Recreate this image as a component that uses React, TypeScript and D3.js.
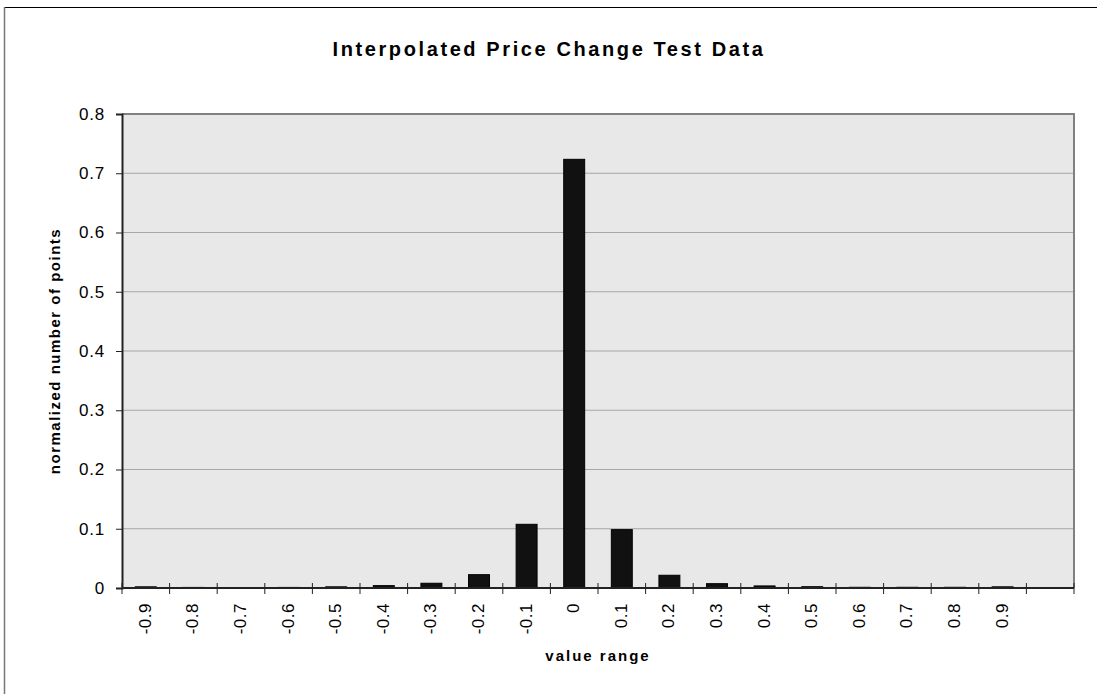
import React, { useEffect, useRef } from 'react';
import * as d3 from 'd3';

const categories = ['-0.9', '-0.8', '-0.7', '-0.6', '-0.5', '-0.4', '-0.3', '-0.2', '-0.1', '0',
  '0.1', '0.2', '0.3', '0.4', '0.5', '0.6', '0.7', '0.8', '0.9', ''];
const values = [0.002, 0.001, 0, 0.001, 0.002, 0.004, 0.008, 0.0225, 0.1075, 0.7235,
  0.0985, 0.0215, 0.0073, 0.0035, 0.0022, 0.0012, 0.0012, 0.0012, 0.002, 0];
const yTicks = [0, 0.1, 0.2, 0.3, 0.4, 0.5, 0.6, 0.7, 0.8];

const W = 1097;
const H = 694;
const FONT = 'Liberation Sans, Arial, sans-serif';

export default function App() {
  const svgRef = useRef<SVGSVGElement>(null);

  useEffect(() => {
    if (!svgRef.current) return;
    const svg = d3.select(svgRef.current);
    svg.selectAll('*').remove();

    const left = 122, right = 1074, top = 114, bottom = 588;

    const x = d3.scaleBand<string>().domain(categories.map((_, i) => String(i))).range([left, right]).padding(0);
    const y = d3.scaleLinear().domain([0, 0.8]).range([bottom, top]);

    // outer chart border
    svg.append('rect')
      .attr('x', 4.5).attr('y', 7.5)
      .attr('width', W + 10).attr('height', H + 10)
      .attr('fill', '#fff').attr('stroke', '#000').attr('stroke-width', 1);
    svg.append('line').attr('x1', 4.5).attr('x2', 4.5).attr('y1', 7).attr('y2', H)
      .attr('stroke', '#777').attr('stroke-width', 1.5);

    // plot background
    svg.append('rect')
      .attr('x', left).attr('y', top)
      .attr('width', right - left).attr('height', bottom - top)
      .attr('fill', '#e8e8e8');

    // gridlines
    svg.append('g').selectAll('line')
      .data(yTicks.slice(1, -1))
      .enter().append('line')
      .attr('x1', left).attr('x2', right)
      .attr('y1', d => y(d)).attr('y2', d => y(d))
      .attr('stroke', '#a6a6a6').attr('stroke-width', 1);

    // top and right border
    svg.append('path')
      .attr('d', `M${left},${top} H${right} V${bottom}`)
      .attr('fill', 'none').attr('stroke', '#808080').attr('stroke-width', 2);

    // bars
    const bw = x.bandwidth() * 0.44;
    svg.append('g').selectAll('rect')
      .data(values)
      .enter().append('rect')
      .attr('x', (_, i) => (x(String(i)) as number) + (x.bandwidth() - bw) / 2)
      .attr('y', d => y(d))
      .attr('width', bw)
      .attr('height', d => bottom - y(d))
      .attr('fill', '#111')
      .attr('stroke', '#000')
      .attr('stroke-width', d => (d > 0 ? 1 : 0));

    // y axis
    const yAxis = svg.append('g')
      .attr('transform', `translate(${left},0)`)
      .call(d3.axisLeft(y).tickValues(yTicks).tickSize(6).tickFormat(d => (d === 0 ? '0' : d3.format('.1f')(d as number))));
    yAxis.select('.domain').attr('stroke', '#222').attr('stroke-width', 2);
    yAxis.selectAll('.tick line').attr('stroke', '#222');
    yAxis.selectAll('.tick text')
      .attr('x', -17)
      .attr('font-family', FONT).attr('font-size', 17).attr('letter-spacing', 0.8)
      .attr('fill', '#000');

    // x axis line and ticks
    const xg = svg.append('g');
    xg.append('line')
      .attr('x1', left).attr('x2', right)
      .attr('y1', bottom).attr('y2', bottom)
      .attr('stroke', '#222').attr('stroke-width', 2);
    xg.selectAll('line.tk')
      .data(d3.range(categories.length + 1))
      .enter().append('line')
      .attr('class', 'tk')
      .attr('x1', i => left + i * x.bandwidth()).attr('x2', i => left + i * x.bandwidth())
      .attr('y1', bottom - 5).attr('y2', bottom + 6)
      .attr('stroke', '#222').attr('stroke-width', 1);
    xg.selectAll('text')
      .data(categories)
      .enter().append('text')
      .attr('transform', (_, i) => `translate(${(x(String(i)) as number) + x.bandwidth() / 2 + 5},603) rotate(-90)`)
      .attr('text-anchor', 'end')
      .attr('font-family', FONT).attr('font-size', 17).attr('letter-spacing', 0.5)
      .attr('fill', '#000')
      .text(d => d);

    // titles
    svg.append('text')
      .attr('x', 549).attr('y', 56)
      .attr('text-anchor', 'middle')
      .attr('font-family', FONT).attr('font-size', 20).attr('font-weight', 'bold').attr('letter-spacing', 2.6)
      .text('Interpolated Price Change Test Data');

    svg.append('text')
      .attr('x', 598).attr('y', 661)
      .attr('text-anchor', 'middle')
      .attr('font-family', FONT).attr('font-size', 15).attr('font-weight', 'bold').attr('letter-spacing', 2)
      .text('value range');

    svg.append('text')
      .attr('transform', `translate(60,351) rotate(-90)`)
      .attr('text-anchor', 'middle')
      .attr('font-family', FONT).attr('font-size', 15).attr('font-weight', 'bold').attr('letter-spacing', 1.5)
      .text('normalized number of points');
  }, []);

  return (
    <svg ref={svgRef} width={W} height={H}
      style={{ position: 'absolute', left: 0, top: 0, background: '#fff' }} />
  );
}
